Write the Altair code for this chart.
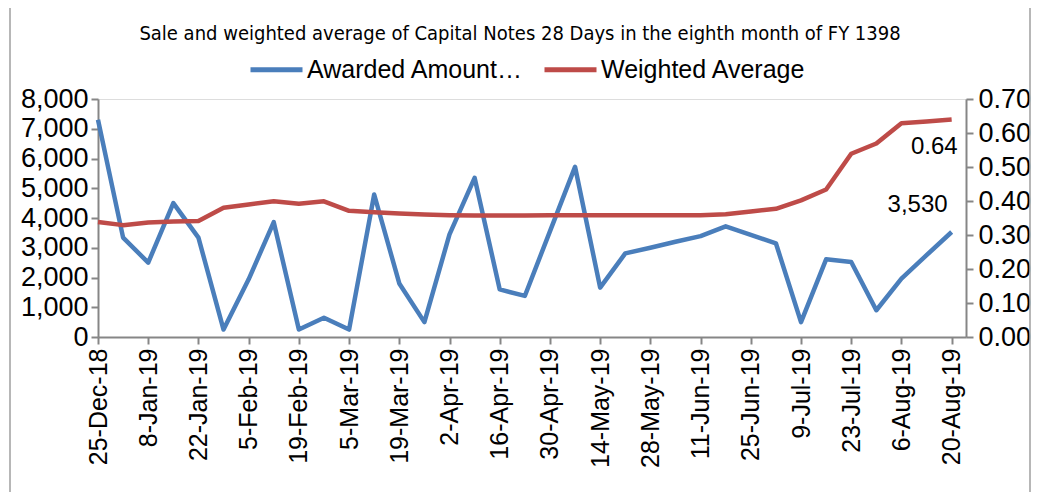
import altair as alt
import pandas as pd
from datetime import date, timedelta

# ---- data ----
start = date(2018, 12, 25)
dates = [(start + timedelta(days=7 * i)).isoformat() for i in range(35)]

awarded = [7300, 3340, 2500, 4500, 3340, 250, 1940, 3860, 250, 650,
           250, 4790, 1800, 500, 3450, 5350, 1600, 1380, 3550, 5720,
           1660, 2810, 3000, 3200, 3390, 3720, 3430, 3150, 500, 2610,
           2520, 900, 1960, 2750, 3530]

wavg = [0.338, 0.329, 0.337, 0.340, 0.341, 0.380, 0.390, 0.399, 0.392, 0.399,
        0.371, 0.367, 0.363, 0.360, 0.358, 0.357, 0.357, 0.357, 0.358, 0.358,
        0.358, 0.358, 0.358, 0.358, 0.358, 0.361, 0.369, 0.377, 0.402, 0.434,
        0.539, 0.569, 0.629, 0.634, 0.64]

series_names = ["Awarded Amount\u2026", "Weighted Average"]
series_colors = ["#4A7EBB", "#BE4B48"]
left_ticks = [0, 1000, 2000, 3000, 4000, 5000, 6000, 7000, 8000]
right_ticks = [0.0, 0.1, 0.2, 0.3, 0.4, 0.5, 0.6, 0.7]
title_text = "Sale and weighted average of Capital Notes 28 Days in the eighth  month of  FY  1398"

df = pd.DataFrame({"date": dates, "amount": awarded, "wavg": wavg,
                   "s1": series_names[0], "s2": series_names[1]})
last = df.tail(1)

GRAY = "#868686"
FONT = "Liberation Sans, Arial, sans-serif"
NARROW = "Liberation Sans Narrow, Arial Narrow, DejaVu Sans Condensed, sans-serif"


def dt(s):
    y, m, d = (int(p) for p in s.split("-"))
    return alt.DateTime(year=y, month=m, date=d, utc=True)


x_values = [dt(s) for s in dates[::2]]
x_enc = alt.X(
    "date:T",
    scale=alt.Scale(type="utc", domain=[dt("2018-12-25"), dt("2019-08-24")]),
    axis=alt.Axis(values=x_values,
                  labelExpr="utcFormat(datum.value, '%-d-%b-%y')",
                  labelAngle=270, labelFontSize=25, labelPadding=4,
                  title=None, grid=False, domainColor=GRAY, tickColor=GRAY,
                  tickSize=7, domainWidth=2, tickWidth=2, labelColor="black",
                  labelFont=FONT),
)

color_scale = alt.Scale(domain=series_names, range=series_colors)
legend = alt.Legend(title=None, orient="none", direction="horizontal",
                    legendX=150, legendY=-58, symbolType="stroke",
                    symbolSize=2704, symbolStrokeWidth=5, labelFontSize=25,
                    labelFont=FONT, labelColor="black", columnPadding=10,
                    labelOffset=2, labelLimit=0)

y_left = alt.Y("amount:Q",
               scale=alt.Scale(domain=[0, 8000], nice=False),
               axis=alt.Axis(values=left_ticks, format=",d", title=None,
                             grid=False, labelFontSize=27, labelPadding=3,
                             tickSize=7, domainColor=GRAY, tickColor=GRAY,
                             domainWidth=2, tickWidth=2, labelColor="black",
                             labelFont=FONT))

y_right = alt.Y("wavg:Q",
                scale=alt.Scale(domain=[0, 0.7], nice=False),
                axis=alt.Axis(values=right_ticks, format=".2f", title=None,
                              orient="right", grid=False, labelFontSize=27,
                              labelPadding=5, tickSize=7, domainColor=GRAY,
                              tickColor=GRAY, domainWidth=2, tickWidth=2,
                              labelColor="black", labelFont=FONT))

base = alt.Chart(df)

blue_line = base.mark_line(strokeWidth=4.5, strokeJoin="round").encode(
    x=x_enc, y=y_left,
    color=alt.Color("s1:N", scale=color_scale, legend=legend),
)
blue_text = alt.Chart(last).mark_text(
    align="right", baseline="middle", dx=-4, dy=-27, fontSize=24,
    font=FONT, color="black"
).encode(x=x_enc, y=y_left, text=alt.Text("amount:Q", format=","))

red_line = base.mark_line(strokeWidth=4.5, strokeJoin="round").encode(
    x=x_enc, y=y_right,
    color=alt.Color("s2:N", scale=color_scale, legend=legend),
)
red_text = alt.Chart(last).mark_text(
    align="right", baseline="middle", dx=6, dy=28, fontSize=24,
    font=FONT, color="black"
).encode(x=x_enc, y=y_right, text=alt.Text("wavg:Q", format=".2f"))

# outer chart frame (decoration)
frame = alt.Chart(last).mark_rect(fill=None, stroke="#A0A0A0", strokeWidth=1.5).encode(
    x=alt.value(-88), x2=alt.value(932), y=alt.value(-93), y2=alt.value(420)
)

left_layer = alt.layer(blue_line, blue_text)
right_layer = alt.layer(red_line, red_text)

chart = alt.layer(frame, left_layer, right_layer).resolve_scale(
    y="independent"
).properties(
    width=868, height=238,
    autosize=alt.AutoSizeParams(type="none"),
    padding={"left": 90, "top": 91, "right": 66, "bottom": 155},
    title=alt.TitleParams(title_text, fontSize=20, font=NARROW,
                          fontWeight="normal", anchor="middle", frame="group",
                          dx=-12, dy=43, color="black"),
).configure_view(stroke=None).configure(font=FONT, background="white")

chart.save("out.html", embed_options={"renderer": "svg", "actions": False})
